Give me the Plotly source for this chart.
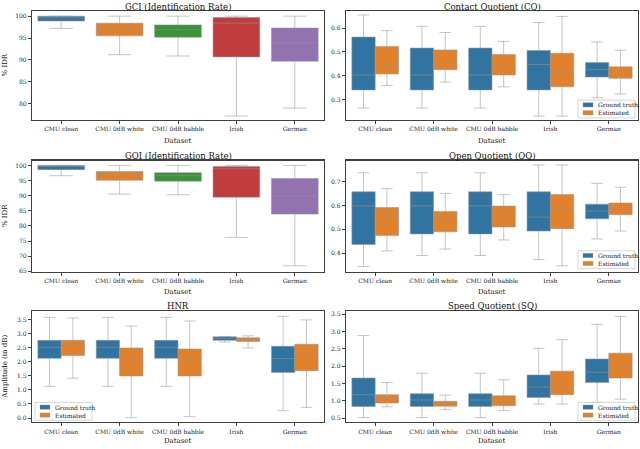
import plotly.graph_objects as go

categories = ["CMU clean", "CMU 0dB white", "CMU 0dB babble", "Irish", "German"]
series_names = ["Ground truth", "Estimated"]

# GCI (Identification Rate) - % IDR
gci_lo = [97.2, 91.2, 90.9, 77.2, 79.0]
gci_q1 = [98.9, 95.5, 95.2, 90.7, 89.7]
gci_med = [99.6, 97.2, 96.9, 98.4, 93.9]
gci_q3 = [100.0, 98.4, 98.0, 99.7, 97.3]
gci_hi = [100.0, 100.0, 100.0, 100.0, 100.0]

# GOI (Identification Rate) - % IDR
goi_lo = [96.6, 90.5, 90.3, 76.2, 66.8]
goi_q1 = [98.6, 95.1, 94.8, 89.5, 83.9]
goi_med = [99.9, 96.8, 96.6, 98.9, 89.8]
goi_q3 = [100.0, 98.0, 97.6, 99.6, 95.7]
goi_hi = [100.0, 100.0, 100.0, 100.0, 100.0]

# Contact Quotient (CQ)
cq_gt_lo = [0.264, 0.264, 0.264, 0.230, 0.307]
cq_gt_q1 = [0.340, 0.340, 0.340, 0.340, 0.394]
cq_gt_med = [0.403, 0.403, 0.403, 0.447, 0.425]
cq_gt_q3 = [0.562, 0.516, 0.516, 0.506, 0.455]
cq_gt_hi = [0.655, 0.607, 0.607, 0.623, 0.541]
cq_est_lo = [0.359, 0.373, 0.353, 0.230, 0.323]
cq_est_q1 = [0.407, 0.425, 0.403, 0.353, 0.389]
cq_est_med = [0.441, 0.451, 0.442, 0.412, 0.415]
cq_est_q3 = [0.523, 0.508, 0.489, 0.494, 0.437]
cq_est_hi = [0.589, 0.581, 0.544, 0.649, 0.507]

# Open Quotient (OQ)
oq_gt_lo = [0.345, 0.391, 0.391, 0.374, 0.460]
oq_gt_q1 = [0.437, 0.481, 0.481, 0.493, 0.544]
oq_gt_med = [0.598, 0.598, 0.598, 0.551, 0.576]
oq_gt_q3 = [0.657, 0.657, 0.657, 0.657, 0.605]
oq_gt_hi = [0.736, 0.736, 0.736, 0.769, 0.692]
oq_est_lo = [0.410, 0.418, 0.456, 0.348, 0.493]
oq_est_q1 = [0.474, 0.490, 0.510, 0.503, 0.561]
oq_est_med = [0.558, 0.548, 0.549, 0.586, 0.586]
oq_est_q3 = [0.591, 0.575, 0.597, 0.645, 0.610]
oq_est_hi = [0.670, 0.650, 0.645, 0.769, 0.676]

# HNR - Amplitude (in dB)
hnr_gt_lo = [1.13, 1.13, 1.13, 2.71, 0.26]
hnr_gt_q1 = [2.13, 2.13, 2.13, 2.77, 1.62]
hnr_gt_med = [2.52, 2.52, 2.52, 2.85, 2.12]
hnr_gt_q3 = [2.77, 2.77, 2.77, 2.90, 2.56]
hnr_gt_hi = [3.59, 3.59, 3.59, 2.91, 3.63]
hnr_est_lo = [1.42, 0.01, 0.05, 2.50, 0.38]
hnr_est_q1 = [2.23, 1.50, 1.50, 2.73, 1.69]
hnr_est_med = [2.60, 2.13, 2.09, 2.82, 2.23]
hnr_est_q3 = [2.77, 2.50, 2.46, 2.86, 2.63]
hnr_est_hi = [3.57, 3.28, 3.46, 2.93, 3.50]

# Speed Quotient (SQ)
sq_gt_lo = [0.52, 0.52, 0.52, 0.91, 0.96]
sq_gt_q1 = [0.84, 0.84, 0.84, 1.10, 1.53]
sq_gt_med = [1.18, 1.03, 1.03, 1.40, 1.83]
sq_gt_q3 = [1.66, 1.21, 1.21, 1.75, 2.21]
sq_gt_hi = [2.89, 1.80, 1.80, 2.52, 3.21]
sq_est_lo = [0.83, 0.75, 0.72, 0.91, 1.05]
sq_est_q1 = [0.94, 0.85, 0.86, 1.18, 1.66]
sq_est_med = [1.05, 0.93, 0.93, 1.38, 1.98]
sq_est_q3 = [1.18, 0.99, 1.15, 1.86, 2.38]
sq_est_hi = [1.53, 1.17, 1.61, 2.77, 3.44]

# ---------------- styling ----------------
FONT = "DejaVu Serif"
cat_colors = ["#3274a1", "#e1812c", "#3a923a", "#c03d3e", "#9372b2"]
gt_color = "#3274a1"
est_color = "#e1812c"
box_line = "rgba(150,150,150,0.55)"
axis_col = "#404040"

W, H = 640, 449
# panel pixel boxes
colx = [(32, 324), (346, 638)]
rowy = [(10, 120), (161, 273), (313, 425)]


def px2paper_x(p):
    return p / W


def px2paper_y(p):
    return 1 - p / H


fig = go.Figure()

panels = [
    (0, 0, "GCI (Identification Rate)", "% IDR", [76.3, 101.2], [80, 85, 90, 95, 100], "d"),
    (0, 1, "Contact Quotient (CQ)", None, [0.214, 0.672], [0.3, 0.4, 0.5, 0.6], ".1f"),
    (1, 0, "GOI (Identification Rate)", "% IDR", [64.9, 101.6], [65, 70, 75, 80, 85, 90, 95, 100], "d"),
    (1, 1, "Open Quotient (OQ)", None, [0.324, 0.787], [0.4, 0.5, 0.6, 0.7], ".1f"),
    (2, 0, "HNR", "Amplitude (in dB)", [-0.15, 3.81], [0.0, 0.5, 1.0, 1.5, 2.0, 2.5, 3.0, 3.5], ".1f"),
    (2, 1, "Speed Quotient (SQ)", None, [0.386, 3.59], [0.5, 1.0, 1.5, 2.0, 2.5, 3.0, 3.5], ".1f"),
]

annotations = []
shapes = []
for i, (r, c, title, ytitle, yrange, tickvals, tfmt) in enumerate(panels):
    n = i + 1
    xk = "xaxis" if n == 1 else f"xaxis{n}"
    yk = "yaxis" if n == 1 else f"yaxis{n}"
    xid = "x" if n == 1 else f"x{n}"
    yid = "y" if n == 1 else f"y{n}"
    x0, x1 = colx[c]
    yt, yb = rowy[r]
    fig.layout[xk] = dict(
        domain=[px2paper_x(x0), px2paper_x(x1)], anchor=yid,
        type="category", categoryorder="array", categoryarray=categories,
        range=[-0.5, 4.5],
        showline=True, mirror=True, linecolor=axis_col, linewidth=1.2,
        ticks="outside", ticklen=3, tickwidth=1, tickcolor=axis_col,
        tickfont=dict(family=FONT, size=6, color="#222"),
        showgrid=False, zeroline=False, fixedrange=True,
    )
    fig.layout[yk] = dict(
        domain=[px2paper_y(yb), px2paper_y(yt)], anchor=xid,
        range=yrange, tickvals=tickvals, tickformat=tfmt,
        showline=True, mirror=True, linecolor=axis_col, linewidth=1.2,
        ticks="outside", ticklen=3, tickwidth=1, tickcolor=axis_col,
        tickfont=dict(family=FONT, size=6, color="#222"),
        showgrid=False, zeroline=False, fixedrange=True,
    )
    # subplot title
    if r == 0:
        ttl = dict(y=1.0, yanchor="top", yshift=1.5)
    else:
        ttl = dict(y=px2paper_y(yt), yanchor="bottom", yshift=-2)
    annotations.append(dict(
        text=title, x=(px2paper_x(x0) + px2paper_x(x1)) / 2,
        xref="paper", yref="paper", xanchor="center",
        showarrow=False, font=dict(family=FONT, size=8.5, color="#111"), **ttl,
    ))
    # x axis title
    annotations.append(dict(
        text="Dataset", x=(px2paper_x(x0) + px2paper_x(x1)) / 2,
        y=px2paper_y(yb + (19 if r == 2 else 21)),
        xref="paper", yref="paper", xanchor="center", yanchor="middle",
        showarrow=False, font=dict(family=FONT, size=7, color="#111"),
    ))
    if ytitle:
        annotations.append(dict(
            text=ytitle, x=px2paper_x(5), y=(px2paper_y(yt) + px2paper_y(yb)) / 2,
            xref="paper", yref="paper", xanchor="center", yanchor="middle",
            textangle=-90, showarrow=False, font=dict(family=FONT, size=7, color="#111"),
        ))


def add_single(n, lo, q1, med, q3, hi):
    xid = "x" if n == 1 else f"x{n}"
    yid = "y" if n == 1 else f"y{n}"
    for k, cat in enumerate(categories):
        fig.add_trace(go.Box(
            x=[cat], lowerfence=[lo[k]], q1=[q1[k]], median=[med[k]], q3=[q3[k]],
            upperfence=[hi[k]], fillcolor=cat_colors[k],
            line=dict(color=box_line, width=1), whiskerwidth=0.5,
            boxpoints=False, showlegend=False, name=cat,
            xaxis=xid, yaxis=yid, alignmentgroup=f"a{n}", offsetgroup=f"o{n}",
        ))


def add_pair(n, gt, est):
    xid = "x" if n == 1 else f"x{n}"
    yid = "y" if n == 1 else f"y{n}"
    for name, stats, color, og in [(series_names[0], gt, gt_color, "gt"),
                                   (series_names[1], est, est_color, "est")]:
        lo, q1, med, q3, hi = stats
        fig.add_trace(go.Box(
            x=categories, lowerfence=lo, q1=q1, median=med, q3=q3, upperfence=hi,
            fillcolor=color, line=dict(color=box_line, width=1), whiskerwidth=0.5,
            boxpoints=False, name=name, showlegend=False,
            xaxis=xid, yaxis=yid, alignmentgroup=f"a{n}", offsetgroup=f"{og}{n}",
        ))


def add_legend(left_px, top_px):
    """Small matplotlib-like legend box (frame, colour patches, labels)."""
    w, h = 57, 18
    shapes.append(dict(
        type="rect", xref="paper", yref="paper", layer="above",
        x0=px2paper_x(left_px), x1=px2paper_x(left_px + w),
        y0=px2paper_y(top_px + h), y1=px2paper_y(top_px),
        fillcolor="rgba(255,255,255,0.85)", line=dict(color="#cccccc", width=0.8),
    ))
    for j, (name, color) in enumerate(zip(series_names, [gt_color, est_color])):
        cy = top_px + 4.8 + j * 8
        shapes.append(dict(
            type="rect", xref="paper", yref="paper", layer="above",
            x0=px2paper_x(left_px + 5), x1=px2paper_x(left_px + 15),
            y0=px2paper_y(cy + 2.2), y1=px2paper_y(cy - 2.2),
            fillcolor=color, line=dict(color=box_line, width=0.6),
        ))
        annotations.append(dict(
            text=name, x=px2paper_x(left_px + 18), y=px2paper_y(cy),
            xref="paper", yref="paper", xanchor="left", yanchor="middle",
            showarrow=False, font=dict(family=FONT, size=6, color="#111"),
        ))


add_single(1, gci_lo, gci_q1, gci_med, gci_q3, gci_hi)
add_single(3, goi_lo, goi_q1, goi_med, goi_q3, goi_hi)
add_pair(2, (cq_gt_lo, cq_gt_q1, cq_gt_med, cq_gt_q3, cq_gt_hi),
         (cq_est_lo, cq_est_q1, cq_est_med, cq_est_q3, cq_est_hi))
add_pair(4, (oq_gt_lo, oq_gt_q1, oq_gt_med, oq_gt_q3, oq_gt_hi),
         (oq_est_lo, oq_est_q1, oq_est_med, oq_est_q3, oq_est_hi))
add_pair(5, (hnr_gt_lo, hnr_gt_q1, hnr_gt_med, hnr_gt_q3, hnr_gt_hi),
         (hnr_est_lo, hnr_est_q1, hnr_est_med, hnr_est_q3, hnr_est_hi))
add_pair(6, (sq_gt_lo, sq_gt_q1, sq_gt_med, sq_gt_q3, sq_gt_hi),
         (sq_est_lo, sq_est_q1, sq_est_med, sq_est_q3, sq_est_hi))

add_legend(578, 100)   # CQ
add_legend(578, 252)   # OQ
add_legend(35, 405)    # HNR
add_legend(578, 405)   # SQ

fig.update_layout(
    width=W, height=H,
    margin=dict(l=0, r=0, t=0, b=0),
    paper_bgcolor="white", plot_bgcolor="white",
    boxmode="group", boxgap=0.2, boxgroupgap=0.0,
    annotations=annotations, shapes=shapes,
    showlegend=False, hovermode=False,
    font=dict(family=FONT, size=7, color="#111"),
)

# remove the browser's default 8px body margin so the 640x449 figure fills the window
fig.write_html(
    "out.html",
    config={"displayModeBar": False, "staticPlot": True},
    post_script="document.body.style.margin='0';document.body.style.overflow='hidden';",
)
